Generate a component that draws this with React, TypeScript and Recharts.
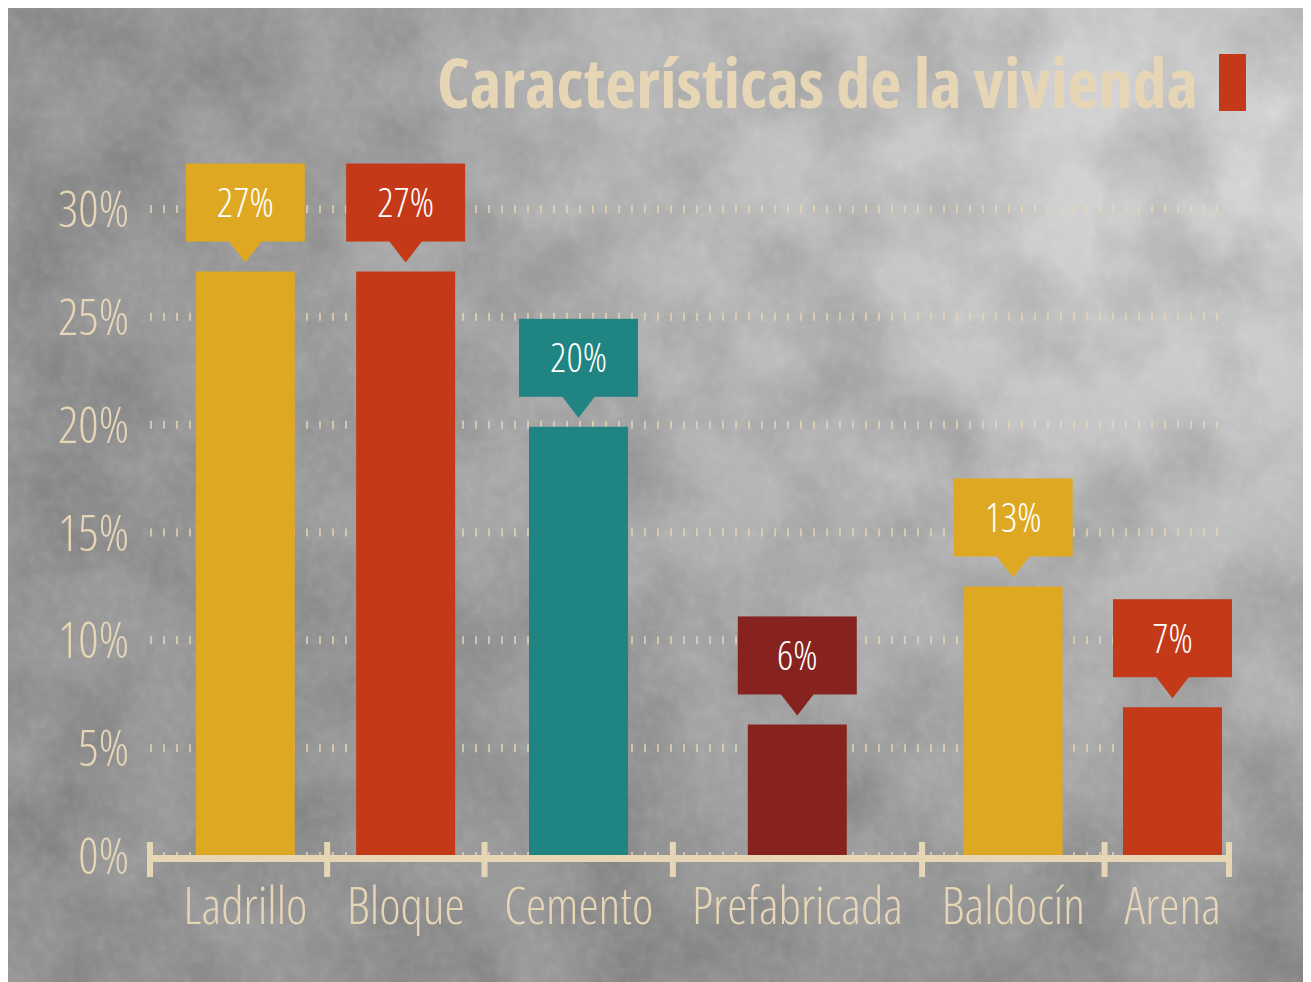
import { BarChart, Bar, XAxis, YAxis, CartesianGrid, Cell, LabelList } from "recharts";

const categories = ["Ladrillo", "Bloque", "Cemento", "Prefabricada", "Baldocín", "Arena"];
const shares = [27.1, 27.1, 19.9, 6.1, 12.5, 6.9];
const yTicks = [0, 5, 10, 15, 20, 25, 30];

const GOLD = "#dea823";
const RED = "#c43a19";
const TEAL = "#208482";
const WINE = "#86231f";
const BEIGE = "#e7d6b6";
const BAR_COLORS = [GOLD, RED, TEAL, WINE, GOLD, RED];

const W = 1295;
const H = 974;
const MARGIN = { top: 201, right: 74, bottom: 46, left: 42 };
const Y_W = 100;
const PLOT_W = W - MARGIN.left - MARGIN.right - Y_W;
const X_FONT = 51;

const FONT = "'Open Sans', 'Noto Sans', sans-serif";
const thin = { fontFamily: FONT, fontWeight: 300, fontStretch: "condensed" as const };

// each category gets a slot as wide as its label plus some padding
function labelWidth(s: string) {
  try {
    const ctx = document.createElement("canvas").getContext("2d") as any;
    ctx.font = `300 ${X_FONT}px 'Open Sans'`;
    ctx.fontStretch = "condensed";
    return ctx.measureText(s).width;
  } catch {
    return s.length * 17;
  }
}
const slots = categories.map((c) => labelWidth(c) + 42);
const edges = slots.reduce((acc, w) => [...acc, acc[acc.length - 1] + w], [0]);
const TOTAL = edges[edges.length - 1];
const LEAD = 14;
const TRAIL = 12;
const X_MIN = -LEAD;
const X_MAX = TOTAL - TRAIL;
const centers = categories.map((_, i) => (edges[i] + edges[i + 1]) / 2);

const data = categories.map((name, i) => ({ name, pos: centers[i], value: shares[i] }));

function YTick({ x, y, payload }: any) {
  return (
    <text x={x + 2} y={y} dy="0.36em" textAnchor="end" fill={BEIGE} fontSize={50} style={thin}>
      {payload.value}%
    </text>
  );
}

// axis segment, slot divider and label for one category
function XTick({ x, y, index }: any) {
  const k = PLOT_W / (X_MAX - X_MIN);
  const last = categories.length - 1;
  const leftVal = index === 0 ? X_MIN : edges[index];
  const rightVal = index === last ? X_MAX : edges[index + 1];
  const left = x + (leftVal - centers[index]) * k;
  const right = x + (rightVal - centers[index]) * k;
  const tickTop = y - 22;
  return (
    <g>
      <rect x={left} y={tickTop + 13} width={right - left} height={7} fill={BEIGE} />
      <rect x={left - 3} y={tickTop} width={6} height={35} fill={BEIGE} />
      {index === last && <rect x={right - 3} y={tickTop} width={6} height={35} fill={BEIGE} />}
      <text x={x} y={y + 60} textAnchor="middle" fill={BEIGE} fontSize={X_FONT} style={thin}>
        {categories[index]}
      </text>
    </g>
  );
}

// speech-bubble label above each bar
function Callout({ x, y, width, value, index }: any) {
  const cx = x + width / 2;
  const tip = y - 9;
  const boxBottom = tip - 21;
  const boxTop = boxBottom - 78;
  const fill = BAR_COLORS[index % BAR_COLORS.length];
  return (
    <g>
      <rect x={cx - 59.5} y={boxTop} width={119} height={78} fill={fill} />
      <polygon points={`${cx - 17},${boxBottom - 1} ${cx + 17},${boxBottom - 1} ${cx},${tip}`} fill={fill} />
      <text x={cx} y={boxTop + 39} dy="0.36em" textAnchor="middle" fill="#ffffff" fontSize={40} style={thin}>
        {Math.round(value)}%
      </text>
    </g>
  );
}

function Backdrop() {
  return (
    <svg width={W} height={H} style={{ position: "absolute", left: 0, top: 0 }}>
      <defs>
        <radialGradient id="bgLight" cx="95%" cy="15%" r="85%">
          <stop offset="0%" stopColor="#dadada" />
          <stop offset="40%" stopColor="#c2c2c2" />
          <stop offset="100%" stopColor="#999999" />
        </radialGradient>
        <filter id="clouds" x="0" y="0" width="100%" height="100%">
          <feTurbulence type="fractalNoise" baseFrequency="0.009" numOctaves={5} seed={7} />
          <feColorMatrix type="matrix" values="0 0 0 0 0  0 0 0 0 0  0 0 0 0 0  1.4 0 0 0 -0.5" />
        </filter>
        <filter id="grain" x="0" y="0" width="100%" height="100%">
          <feTurbulence type="fractalNoise" baseFrequency="0.09" numOctaves={2} seed={3} />
          <feColorMatrix type="matrix" values="0 0 0 0 1  0 0 0 0 1  0 0 0 0 1  1.2 0 0 0 -0.45" />
        </filter>
      </defs>
      <rect width={W} height={H} fill="url(#bgLight)" />
      <rect width={W} height={H} filter="url(#clouds)" opacity={0.22} />
      <rect width={W} height={H} filter="url(#grain)" opacity={0.12} />
    </svg>
  );
}

export default function App() {
  return (
    <div style={{ position: "relative", width: W, height: H, overflow: "hidden" }}>
      <Backdrop />
      <div
        style={{
          position: "absolute",
          left: 429,
          top: 34,
          color: BEIGE,
          fontFamily: FONT,
          fontWeight: 700,
          fontStretch: "condensed",
          fontSize: 68,
          lineHeight: "80px",
          whiteSpace: "nowrap",
        }}
      >
        Características de la vivienda
      </div>
      <div style={{ position: "absolute", left: 1211, top: 46, width: 27, height: 57, background: RED }} />
      <div style={{ position: "absolute", left: 0, top: 0 }}>
        <BarChart width={W} height={H} data={data} margin={MARGIN}>
          <CartesianGrid
            horizontal
            vertical={false}
            stroke={BEIGE}
            strokeOpacity={0.75}
            strokeWidth={8}
            strokeDasharray="2 11"
          />
          <XAxis
            dataKey="pos"
            type="number"
            domain={[X_MIN, X_MAX]}
            ticks={centers}
            allowDataOverflow
            axisLine={false}
            tickLine={false}
            tick={<XTick />}
            height={80}
            interval={0}
          />
          <YAxis
            domain={[0, 30]}
            ticks={yTicks}
            width={Y_W}
            axisLine={false}
            tickLine={false}
            tickMargin={17}
            tick={<YTick />}
          />
          <Bar dataKey="value" barSize={99} isAnimationActive={false}>
            {data.map((d, i) => (
              <Cell key={d.name} fill={BAR_COLORS[i % BAR_COLORS.length]} />
            ))}
            <LabelList dataKey="value" content={<Callout />} />
          </Bar>
        </BarChart>
      </div>
    </div>
  );
}
